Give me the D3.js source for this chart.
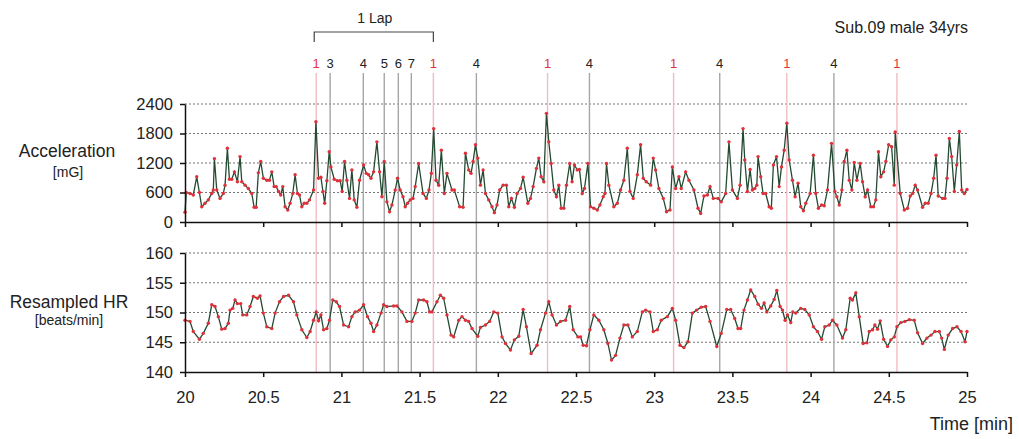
<!DOCTYPE html>
<html>
<head>
<meta charset="utf-8">
<script src="https://cdn.jsdelivr.net/npm/d3@7/dist/d3.min.js"></script>
<style>
  html, body { margin: 0; padding: 0; background: #fff; }
  svg { display: block; font-family: "Liberation Sans", Arial, sans-serif; }
</style>
</head>
<body>
<svg id="chart" width="1019" height="439"></svg>
<script>
// ---------------- data ----------------
const accTime = [20.000,20.008,20.032,20.053,20.075,20.092,20.107,20.128,20.149,20.171,20.181,20.188,20.203,20.224,20.245,20.256,20.271,20.284,20.299,20.316,20.335,20.352,20.363,20.384,20.405,20.427,20.442,20.455,20.469,20.484,20.501,20.523,20.540,20.555,20.570,20.583,20.598,20.612,20.625,20.640,20.657,20.672,20.689,20.704,20.719,20.732,20.747,20.762,20.779,20.796,20.822,20.837,20.854,20.869,20.882,20.893,20.907,20.922,20.933,20.954,20.975,20.992,21.005,21.020,21.035,21.052,21.067,21.082,21.099,21.116,21.142,21.159,21.174,21.189,21.206,21.227,21.244,21.259,21.274,21.291,21.308,21.323,21.344,21.359,21.376,21.394,21.408,21.423,21.440,21.458,21.472,21.494,21.522,21.543,21.560,21.575,21.590,21.605,21.622,21.639,21.658,21.675,21.707,21.722,21.756,21.778,21.793,21.814,21.829,21.842,21.857,21.872,21.889,21.906,21.921,21.942,21.963,21.978,21.995,22.012,22.034,22.055,22.070,22.087,22.106,22.123,22.145,22.162,22.192,22.209,22.226,22.247,22.262,22.277,22.294,22.311,22.326,22.341,22.358,22.375,22.390,22.405,22.422,22.439,22.460,22.475,22.490,22.508,22.522,22.540,22.554,22.576,22.593,22.614,22.636,22.653,22.674,22.685,22.695,22.710,22.742,22.764,22.785,22.806,22.828,22.845,22.866,22.892,22.913,22.930,22.949,22.977,22.994,23.009,23.030,23.058,23.079,23.101,23.116,23.137,23.158,23.173,23.201,23.222,23.254,23.280,23.297,23.318,23.340,23.357,23.378,23.408,23.429,23.457,23.478,23.500,23.532,23.549,23.568,23.579,23.596,23.613,23.628,23.643,23.656,23.664,23.681,23.696,23.713,23.735,23.749,23.762,23.782,23.799,23.814,23.831,23.848,23.863,23.884,23.901,23.920,23.937,23.954,23.969,23.997,24.018,24.033,24.050,24.070,24.087,24.108,24.134,24.155,24.168,24.183,24.200,24.215,24.232,24.247,24.264,24.279,24.296,24.317,24.332,24.349,24.364,24.385,24.402,24.417,24.434,24.449,24.467,24.481,24.499,24.518,24.535,24.541,24.573,24.599,24.620,24.637,24.652,24.669,24.684,24.716,24.733,24.752,24.770,24.787,24.802,24.816,24.844,24.859,24.872,24.887,24.902,24.919,24.934,24.951,24.966,24.983,25.000];
const accValue = [200,600,580,550,920,600,310,380,450,580,650,1290,650,480,580,750,1500,870,870,1020,820,1330,820,750,680,580,300,300,1000,1230,890,850,850,1020,720,720,620,550,720,310,245,380,580,960,580,550,310,380,380,450,650,2040,890,910,620,380,840,1430,1120,870,840,840,620,1230,850,480,1060,450,300,850,1160,990,960,890,1020,1630,1020,515,1230,410,210,345,650,890,650,515,310,380,450,480,720,1190,580,480,650,990,1900,850,750,1460,580,990,650,650,310,300,1400,1060,990,1230,1570,1300,750,1060,580,450,310,190,345,650,750,750,310,480,300,580,680,910,380,480,720,1090,1300,920,820,2210,1630,1190,650,515,750,280,280,750,1190,820,1160,1060,1070,580,680,1190,310,280,245,345,515,580,1190,750,310,380,650,850,1500,620,480,960,1570,890,820,750,1300,1060,680,480,210,245,1120,680,920,680,1020,850,650,280,175,530,550,720,480,480,410,580,1630,650,480,750,1900,1260,620,1070,650,680,750,1330,920,580,580,310,280,1160,1330,720,1120,1460,2010,1260,850,515,790,310,230,380,580,1360,580,280,345,330,650,1600,620,515,345,650,1230,1460,850,650,1210,850,1190,820,515,650,310,310,450,1430,920,1020,1230,1570,1530,750,1830,580,245,280,530,580,750,650,300,380,380,580,890,1360,530,480,480,890,1700,1330,620,1160,1840,650,580,660];

const hrTime = [20.000,20.032,20.053,20.092,20.117,20.149,20.171,20.192,20.213,20.235,20.256,20.277,20.288,20.305,20.320,20.335,20.356,20.369,20.395,20.416,20.437,20.463,20.480,20.501,20.523,20.555,20.576,20.604,20.630,20.662,20.694,20.715,20.747,20.779,20.800,20.822,20.839,20.854,20.869,20.886,20.907,20.924,20.945,20.967,20.988,21.014,21.046,21.067,21.088,21.116,21.142,21.167,21.189,21.206,21.227,21.253,21.270,21.291,21.334,21.355,21.387,21.419,21.451,21.472,21.494,21.526,21.547,21.564,21.579,21.611,21.633,21.654,21.675,21.701,21.718,21.750,21.771,21.793,21.814,21.835,21.872,21.889,21.921,21.948,21.974,22.000,22.027,22.049,22.081,22.106,22.134,22.162,22.183,22.213,22.251,22.273,22.305,22.326,22.347,22.375,22.401,22.433,22.460,22.482,22.512,22.529,22.546,22.567,22.589,22.614,22.646,22.678,22.704,22.727,22.753,22.781,22.806,22.832,22.860,22.892,22.924,22.945,22.973,22.994,23.020,23.045,23.084,23.116,23.137,23.165,23.190,23.216,23.244,23.271,23.301,23.329,23.357,23.400,23.429,23.464,23.489,23.515,23.536,23.553,23.574,23.596,23.617,23.643,23.664,23.686,23.703,23.720,23.745,23.767,23.784,23.805,23.820,23.837,23.852,23.873,23.886,23.905,23.937,23.963,23.991,24.018,24.044,24.070,24.091,24.119,24.140,24.168,24.204,24.225,24.253,24.268,24.289,24.311,24.336,24.360,24.375,24.396,24.411,24.428,24.445,24.467,24.492,24.513,24.535,24.552,24.577,24.603,24.631,24.663,24.684,24.716,24.744,24.770,24.795,24.823,24.838,24.855,24.880,24.908,24.936,24.962,24.987,25.000];
const hrValue = [148.7,148.5,146.8,145.5,146.5,148.2,151.3,151.0,149.3,147.2,147.3,148.2,150.4,150.7,152.1,151.5,151.5,149.6,149.6,151.0,152.7,152.4,152.8,149.9,147.6,147.3,149.9,151.8,152.7,152.9,151.8,149.6,147.1,145.8,146.8,148.7,150.1,148.6,149.6,147.1,147.3,148.7,152.1,151.8,151.0,147.9,147.6,149.3,150.1,150.4,151.3,149.3,148.2,146.8,147.9,149.9,151.3,151.0,151.1,151.1,150.1,148.5,148.5,149.9,152.1,152.1,151.8,150.1,150.1,151.8,152.9,152.4,149.6,146.2,145.9,148.7,149.3,148.7,148.5,147.3,146.0,147.5,147.9,148.5,150.1,149.9,145.9,144.8,143.7,145.4,146.0,150.5,147.6,143.1,144.5,147.1,149.9,151.8,149.6,147.9,148.5,148.7,151.0,147.1,145.9,145.9,144.5,144.4,147.1,149.6,148.7,147.1,144.8,142.0,142.8,145.7,147.9,147.9,145.9,146.8,150.1,150.4,150.1,146.8,147.1,148.7,149.3,150.7,148.7,144.5,144.1,145.1,149.9,150.4,150.9,151.0,148.5,144.3,146.5,150.5,150.5,149.0,147.3,147.3,150.4,152.1,153.8,152.7,151.4,150.7,151.6,150.1,151.1,152.2,153.7,151.0,150.4,148.7,149.6,148.3,150.1,149.9,150.7,150.5,149.6,147.6,146.8,145.5,147.6,147.9,148.7,147.9,145.7,147.1,152.4,152.1,153.3,149.3,144.8,144.9,146.8,147.1,147.9,147.2,148.6,145.5,144.3,145.4,145.9,147.6,148.3,148.5,148.8,148.7,146.6,144.8,145.7,146.2,146.8,146.8,145.7,143.8,146.2,147.3,147.6,146.8,145.1,146.8];

const markerTime  = [20.839,20.928,21.140,21.274,21.364,21.447,21.588,21.863,22.318,22.586,23.124,23.419,23.848,24.149,24.552];
const markerLabel = ["1","3","4","5","6","7","1","4","1","4","1","4","1","4","1"];

const xTicks   = [20,20.5,21,21.5,22,22.5,23,23.5,24,24.5,25];
const accTicks = [0,600,1200,1800,2400];
const hrTicks  = [140,145,150,155,160];

// ---------------- drawing ----------------
const svg = d3.select("#chart");
svg.append("rect").attr("width",1019).attr("height",439).attr("fill","#fff");

const x    = d3.scaleLinear().domain([20,25]).range([185,967]);
const yAcc = d3.scaleLinear().domain([0,2400]).range([222,104]);
const yHr  = d3.scaleLinear().domain([140,160]).range([372,253]);

const lineCol = "#244a32", dotCol = "#e0303a";

// gridlines
function grid(scale, ticks) {
  svg.append("g").selectAll("line").data(ticks.slice(1)).join("line")
    .attr("x1", x(20)).attr("x2", x(25))
    .attr("y1", d => scale(d)).attr("y2", d => scale(d))
    .attr("stroke", "#777").attr("stroke-width", 1.1).attr("stroke-dasharray", "2,2");
}
grid(yAcc, accTicks);
grid(yHr, hrTicks);

// marker vertical lines
const isOne = l => l === "1";
svg.append("g").selectAll("line").data(markerTime).join("line")
  .attr("x1", d => x(d)).attr("x2", d => x(d))
  .attr("y1", 73).attr("y2", yHr(140))
  .attr("stroke", (d,i) => isOne(markerLabel[i]) ? "#f2bcc4" : "#a6a6a6")
  .attr("stroke-width", 1.4);

svg.append("g").selectAll("text").data(markerTime).join("text")
  .attr("x", d => x(d)).attr("y", 68)
  .attr("text-anchor", "middle").attr("font-size", 13)
  .attr("fill", (d,i) => isOne(markerLabel[i]) ? "#e8303a" : "#222")
  .text((d,i) => markerLabel[i]);

// lap bracket
const lapStart = markerTime[0], lapEnd = markerTime[6];
svg.append("path")
  .attr("d", `M${x(lapStart)-2},42 V32 H${x(lapEnd)} V42`)
  .attr("fill","none").attr("stroke","#444").attr("stroke-width",1.2);
svg.append("text").attr("x", (x(lapStart)+x(lapEnd))/2).attr("y", 23)
  .attr("text-anchor","middle").attr("font-size",14).attr("fill","#222").text("1 Lap");

svg.append("text").attr("x", 968).attr("y", 33).attr("text-anchor","end")
  .attr("font-size",16).attr("fill","#222").text("Sub.09 male 34yrs");

// series
function series(times, vals, scale) {
  const pts = times.map((t,i) => [t, vals[i]]);
  svg.append("path").datum(pts)
    .attr("d", d3.line().x(d => x(d[0])).y(d => scale(d[1])))
    .attr("fill","none").attr("stroke", lineCol).attr("stroke-width", 1.3);
  svg.append("g").selectAll("circle").data(pts).join("circle")
    .attr("cx", d => x(d[0])).attr("cy", d => scale(d[1])).attr("r", 1.7)
    .attr("fill", dotCol);
}
series(accTime, accValue, yAcc);
series(hrTime, hrValue, yHr);

// axes
function styleAxis(g) {
  g.selectAll("path,line").attr("stroke","#111").attr("stroke-width",1.5);
  g.selectAll("text").attr("font-size",16.5).attr("fill","#222")
    .attr("font-family",'"Liberation Sans", Arial, sans-serif');
}
const plain = d3.format("");
svg.append("g").attr("transform","translate(185,0)")
  .call(d3.axisLeft(yAcc).tickValues(accTicks).tickFormat(plain).tickSize(5).tickSizeOuter(0).tickPadding(7))
  .call(styleAxis);
svg.append("g").attr("transform","translate(185,0)")
  .call(d3.axisLeft(yHr).tickValues(hrTicks).tickFormat(plain).tickSize(5).tickSizeOuter(0).tickPadding(7))
  .call(styleAxis);
svg.append("g").attr("transform",`translate(0,${yAcc(0)})`)
  .call(d3.axisBottom(x).tickValues(xTicks).tickFormat("").tickSize(5).tickSizeOuter(0))
  .call(styleAxis);
svg.append("g").attr("transform",`translate(0,${yHr(140)})`)
  .call(d3.axisBottom(x).tickValues(xTicks).tickFormat(plain).tickSize(5).tickSizeOuter(0).tickPadding(14))
  .call(styleAxis);

// axis titles
function title(txt, cx, y, size) {
  svg.append("text").attr("x", cx).attr("y", y).attr("text-anchor","middle")
    .attr("font-size", size).attr("fill","#222").text(txt);
}
title("Acceleration", 67, 157, 17.5);
title("[mG]", 68, 177, 14);
title("Resampled HR", 69, 308, 17.5);
title("[beats/min]", 69, 325, 14);
svg.append("text").attr("x", 1013).attr("y", 430).attr("text-anchor","end")
  .attr("font-size",18).attr("fill","#222").text("Time [min]");
</script>
</body>
</html>
